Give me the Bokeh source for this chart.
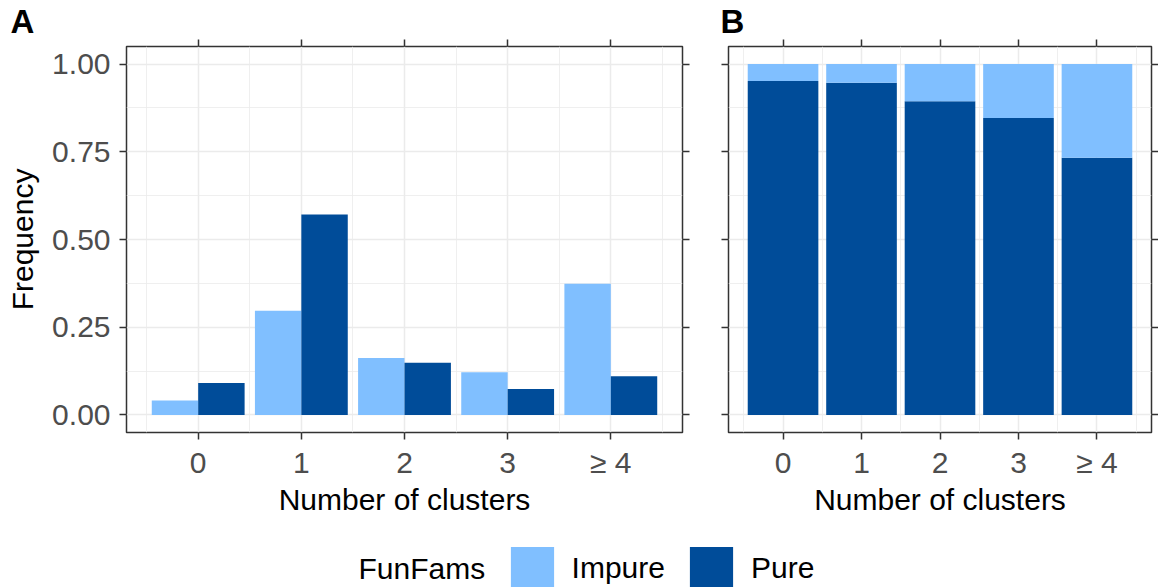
from bokeh.plotting import figure
from bokeh.layouts import column, row
from bokeh.models import (ColumnDataSource, FixedTicker, LinearAxis, Range1d, Label,
                          Legend, LegendItem)
from bokeh.transform import dodge
from bokeh.embed import file_html
from bokeh.resources import INLINE

# ---- data ----
categories = ["0", "1", "2", "3", "\u2265 4"]
impure_freq = [0.041, 0.297, 0.162, 0.122, 0.374]
pure_freq = [0.091, 0.571, 0.149, 0.074, 0.110]
pure_share = [0.952, 0.947, 0.894, 0.846, 0.733]
impure_share = [0.048, 0.053, 0.106, 0.154, 0.267]
y_ticks = [0.0, 0.25, 0.5, 0.75, 1.0]
y_minor = [0.125, 0.375, 0.625, 0.875]
series = ["Impure", "Pure"]
colors = ["#80BFFF", "#004C99"]
legend_title = "FunFams"
x_title = "Number of clusters"
y_title = "Frequency"
panel_tags = ["A", "B"]

FONT = "Liberation Sans"
xs = list(range(len(categories)))
x_minor = [i - 0.5 for i in range(len(categories) + 1)]
x_labels = {i: c for i, c in zip(xs, categories)}
y_labels = {t: f"{t:.2f}" for t in y_ticks}

H = 520       # panel figure height
LEG = 587 - H


def base_axis(ax, ticker):
    ax.ticker = ticker
    ax.axis_line_color = None
    ax.major_tick_line_color = "#333333"
    ax.major_tick_line_width = 1.5
    ax.major_tick_out = 7
    ax.major_tick_in = 0
    ax.minor_tick_line_color = None
    ax.minor_tick_out = 0
    ax.major_label_text_font = FONT
    ax.major_label_text_font_size = "30px"
    ax.major_label_text_color = "#4D4D4D"
    ax.axis_label_text_font = FONT
    ax.axis_label_text_font_size = "30px"
    ax.axis_label_text_font_style = "normal"
    ax.axis_label_text_color = "black"


def blank_axis(ax, ticks):
    ax.major_label_overrides = {t: "" for t in ticks}
    ax.major_label_text_font_size = "1px"
    ax.major_label_standoff = 0


def make_panel(w, bl, br, left_labels, tag, tag_offset):
    p = figure(width=w, height=H, x_range=Range1d(-0.695, 4.695), y_range=Range1d(-0.05, 1.05),
               output_backend="svg", toolbar_location=None,
               x_axis_location=None, y_axis_location=None,
               min_border_left=bl, min_border_right=br, min_border_top=0, min_border_bottom=88,
               background_fill_color="white", border_fill_color="white")
    p.title.text = tag
    p.title.text_font = FONT
    p.title.text_font_style = "bold"
    p.title.text_font_size = "33px"
    p.title.text_color = "black"
    p.title.align = "left"
    p.title.offset = tag_offset
    p.title.standoff = 0
    p.outline_line_color = "#333333"
    p.outline_line_width = 1.5
    xt = FixedTicker(ticks=xs, minor_ticks=x_minor)
    yt = FixedTicker(ticks=y_ticks, minor_ticks=y_minor)
    p.xgrid.ticker = xt
    p.ygrid.ticker = yt
    for g in (p.xgrid, p.ygrid):
        g.grid_line_color = "#EBEBEB"
        g.grid_line_width = 1.5
        g.minor_grid_line_color = "#EBEBEB"
        g.minor_grid_line_width = 0.8

    bottom = LinearAxis()
    base_axis(bottom, xt)
    bottom.major_label_overrides = x_labels
    bottom.major_label_standoff = 6
    bottom.axis_label = x_title
    bottom.axis_label_standoff = 1
    p.add_layout(bottom, "below")

    top = LinearAxis()
    base_axis(top, xt)
    blank_axis(top, xs)
    p.add_layout(top, "above")

    left = LinearAxis()
    base_axis(left, yt)
    if left_labels:
        left.major_label_overrides = y_labels
        left.major_label_standoff = 9
        left.axis_label = y_title
        left.axis_label_standoff = 10
    else:
        blank_axis(left, y_ticks)
    p.add_layout(left, "left")

    right = LinearAxis()
    base_axis(right, yt)
    blank_axis(right, y_ticks)
    p.add_layout(right, "right")
    return p


# Panel A: dodged bars
pa = make_panel(705, 126, 23, True, panel_tags[0], -116)
src_a = ColumnDataSource(dict(x=xs, impure=impure_freq, pure=pure_freq))
pa.vbar(x=dodge("x", -0.225), top="impure", width=0.45, source=src_a,
        fill_color=colors[0], line_color=None)
pa.vbar(x=dodge("x", 0.225), top="pure", width=0.45, source=src_a,
        fill_color=colors[1], line_color=None)

# Panel B: stacked proportions
pb = make_panel(453, 23, 3, False, panel_tags[1], -8)
src_b = ColumnDataSource(dict(x=xs, pure=pure_share, impure=impure_share))
pb.vbar_stack(["pure", "impure"], x="x", width=0.9, source=src_b,
              fill_color=[colors[1], colors[0]], line_color=None)

# Legend strip
leg = figure(width=1158, height=LEG, output_backend="svg", toolbar_location=None,
             x_axis_location=None, y_axis_location=None, min_border=0,
             x_range=Range1d(100, 101), y_range=Range1d(100, 101),
             background_fill_color="white", border_fill_color="white")
leg.outline_line_color = None
leg.xgrid.visible = False
leg.ygrid.visible = False
items = []
for name, c, field in zip(series, colors, ["impure", "pure"]):
    r = leg.vbar(x="x", top=field, width=0.45, source=src_a,
                 fill_color=c, line_color=None)
    r.visible = False
    items.append(LegendItem(label=name, renderers=[r]))
legend = Legend(items=items, location=(504.6, -7.6), orientation="horizontal",
                glyph_width=54, glyph_height=54, label_standoff=13, spacing=19,
                padding=0, margin=0, border_line_color=None, background_fill_alpha=0,
                label_text_font=FONT, label_text_font_size="30px", label_text_color="black")
leg.add_layout(legend)
leg.add_layout(Label(x=358, y=19, x_units="screen", y_units="screen", text=legend_title,
                     text_font=FONT, text_font_size="30px", text_color="black",
                     text_baseline="middle"))

layout = column(row(pa, pb), leg)
open("out.html", "w").write(file_html(layout, INLINE))
